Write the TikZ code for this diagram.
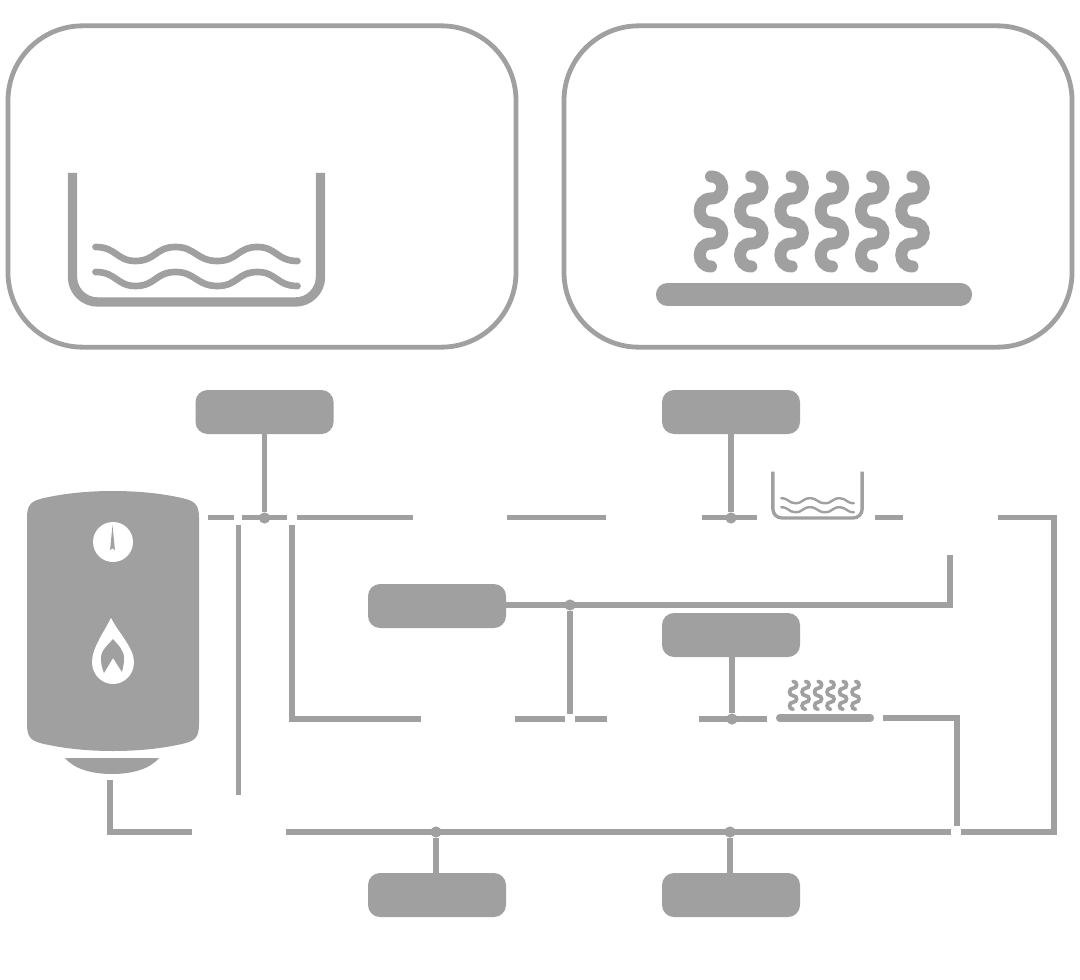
\documentclass[tikz,border=0pt]{standalone}
\usetikzlibrary{positioning}

\definecolor{pipegray}{RGB}{160,160,160}

% water bath icon: x, y of the bottom centre, scale
\newcommand{\waterbath}[3]{
  \begin{scope}[shift={(#1,#2)},scale=#3,line cap=round,draw=pipegray]
    \draw[line width=#3*7pt,line cap=butt] (-124,-129) -- (-124,-25) arc[start angle=180,end angle=90,radius=25] -- (99,0) arc[start angle=90,end angle=0,radius=25] -- (124,-129);
    \foreach \dy in {-55,-30}
      \draw[line width=#3*5pt,shift={(0,\dy)}] (-101,0) .. controls (-80,0) and (-80,14) .. (-61,14) .. controls (-41,14) and (-41,0) .. (-21,0) .. controls (-1,0) and (0,14) .. (21,14) .. controls (41,14) and (41,0) .. (61,0) .. controls (80,0) and (80,14) .. (101,14);
  \end{scope}
}

% hot plate icon: x, y of the plate centre, scale
\newcommand{\hotplate}[3]{
  \begin{scope}[shift={(#1,#2)},scale=#3,line cap=round,draw=pipegray]
    \draw[line width=#3*17.4pt] (-146.5,0) -- (146.5,0);
    \foreach \n in {0,...,5}
      \draw[line width=#3*9pt,shift={(\n*40.3,0)}] (-103,-118) .. controls (-88,-118) and (-88,-96) .. (-103,-96) .. controls (-118,-96) and (-118,-72) .. (-103,-72) .. controls (-88,-72) and (-88,-51) .. (-103,-51) .. controls (-118,-51) and (-118,-28) .. (-103,-28);
  \end{scope}
}

\begin{document}
\begin{tikzpicture}[
  x=0.75pt, y=-0.75pt,
  panel/.style={rectangle, draw=pipegray, line width=3.6pt, rounded corners=56pt,
             minimum width=381pt, minimum height=241pt, inner sep=0pt, outer sep=0pt},
  tag/.style={rectangle, fill=pipegray, rounded corners=9pt,
             minimum width=103.5pt, minimum height=33pt, inner sep=0pt, outer sep=0pt},
  joint/.style={circle, fill=pipegray, minimum size=8.4pt, inner sep=0pt, outer sep=0pt},
  pipe/.style={draw=pipegray, line width=3.8pt}
]
\useasboundingbox (0,0) rectangle (1080,980);

% Panels
\node[panel] (panelbath) at (262,186.5) {};
\node[panel] (panelplate) at (818,186.5) {};
\waterbath{196.5}{302}{1}
\hotplate{814}{294.5}{1}

% Tank
\fill[pipegray] (27,518) .. controls (27,506) and (30,502) .. (40,499) .. controls (60,494) and (85,491) .. (113,491)
  .. controls (141,491) and (166,494) .. (186,499) .. controls (196,502) and (199,506) .. (199,518)
  -- (199,724) .. controls (199,736) and (196,740) .. (186,743) .. controls (166,748) and (141,751) .. (113,751)
  .. controls (85,751) and (60,748) .. (40,743) .. controls (30,740) and (27,736) .. (27,724) -- cycle;
\fill[pipegray] (65,758) -- (159,758) .. controls (150,769) and (132,774) .. (112,774) .. controls (92,774) and (74,769) .. (65,758) -- cycle;
\fill[white] (113,542) circle[radius=15pt];
\fill[pipegray] (112.5,525) -- (115,551) arc[start angle=0,end angle=-180,radius=2.5] -- cycle;
\fill[white] (111,618) .. controls (118,632) and (134,648) .. (134,662) .. controls (134,675) and (124,684) .. (113,684)
  .. controls (102,684) and (92,675) .. (92,662) .. controls (92,648) and (104,632) .. (111,618) -- cycle;
\fill[pipegray] (113,639) .. controls (118,645) and (124,650) .. (124,658) .. controls (124,664) and (123,668) .. (122,672)
  -- (113,658) -- (104,673) .. controls (102,668) and (101,664) .. (101,658) .. controls (101,650) and (108,645) .. (113,639) -- cycle;

% Small icons on the lines
\waterbath{817.5}{518}{0.36}
\hotplate{825}{718}{0.31}

% Tags
\node[tag] (tagin) at (264.5,412) {};
\node[tag] (tagbath) at (731,412) {};
\node[tag] (tagmid) at (437,606) {};
\node[tag] (tagplate) at (731,635) {};
\node[tag] (tagleft) at (437,895) {};
\node[tag] (tagright) at (731,895) {};

% Joints
\node[joint] (jin) at (264.5,518) {};
\node[joint] (jbath) at (731,518) {};
\node[joint] (jmid) at (570,605) {};
\node[joint] (jplate) at (732,719) {};
\node[joint] (jleft) at (436,832) {};
\node[joint] (jright) at (730,832) {};

% Top row
\coordinate (ta) at (208,517.5);
\coordinate (tb) at (234,517.5);
\coordinate (tc) at (242,517.5);
\coordinate (td) at (287,517.5);
\coordinate (te) at (297,517.5);
\coordinate (tf) at (413,517.5);
\coordinate (tg) at (507,517.5);
\coordinate (th) at (606,517.5);
\coordinate (ti) at (702,517.5);
\coordinate (tj) at (757,517.5);
\coordinate (tk) at (875,517.5);
\coordinate (tl) at (903,517.5);
\coordinate (tm) at (998,517.5);
% Middle row
\coordinate (ma) at (421,719);
\coordinate (mb) at (515,719);
\coordinate (mc) at (565,719);
\coordinate (md) at (575,719);
\coordinate (me) at (607,719);
\coordinate (mf) at (699,719);
\coordinate (mg) at (767,719);
\coordinate (mh) at (883,718);
\coordinate (mi) at (957,826);
% Bottom row
\coordinate (ba) at (110,780);
\coordinate (bb) at (192,832);
\coordinate (bc) at (286,832);
\coordinate (bd) at (951,832);
\coordinate (be) at (961,832);
% Verticals
\coordinate (va) at (238.5,525);
\coordinate (vb) at (238.5,795);
\coordinate (vc) at (292,525);
\coordinate (vd) at (570,714);
\coordinate (ve) at (950,555);

% Pipes
\draw[pipe] (ta) -- (tb);
\draw[pipe] (tc) -- (td);
\draw[pipe] (te) -- (tf);
\draw[pipe] (tg) -- (th);
\draw[pipe] (ti) -- (tj);
\draw[pipe] (tk) -- (tl);
\draw[pipe] (tm) -- ++(56,0) |- (be);
\draw[pipe] (va) -- (vb);
\draw[pipe] (vc) |- (ma);
\draw[pipe] (mb) -- (mc);
\draw[pipe] (md) -- (me);
\draw[pipe] (mf) -- (mg);
\draw[pipe] (mh) -| (mi);
\draw[pipe] (ba) |- (bb);
\draw[pipe] (bc) -- (bd);
\draw[pipe] (tagmid.east) -- ++(0,-1) -| (ve);
\draw[pipe] (jmid) -- (vd);

% Tag stems
\draw[pipe] (jin) -- (jin |- tagin.south);
\draw[pipe] (jbath) -- (jbath |- tagbath.south);
\draw[pipe] (jplate) -- (jplate |- tagplate.south);
\draw[pipe] (jleft) -- (jleft |- tagleft.north);
\draw[pipe] (jright) -- (jright |- tagright.north);
\end{tikzpicture}
\end{document}
